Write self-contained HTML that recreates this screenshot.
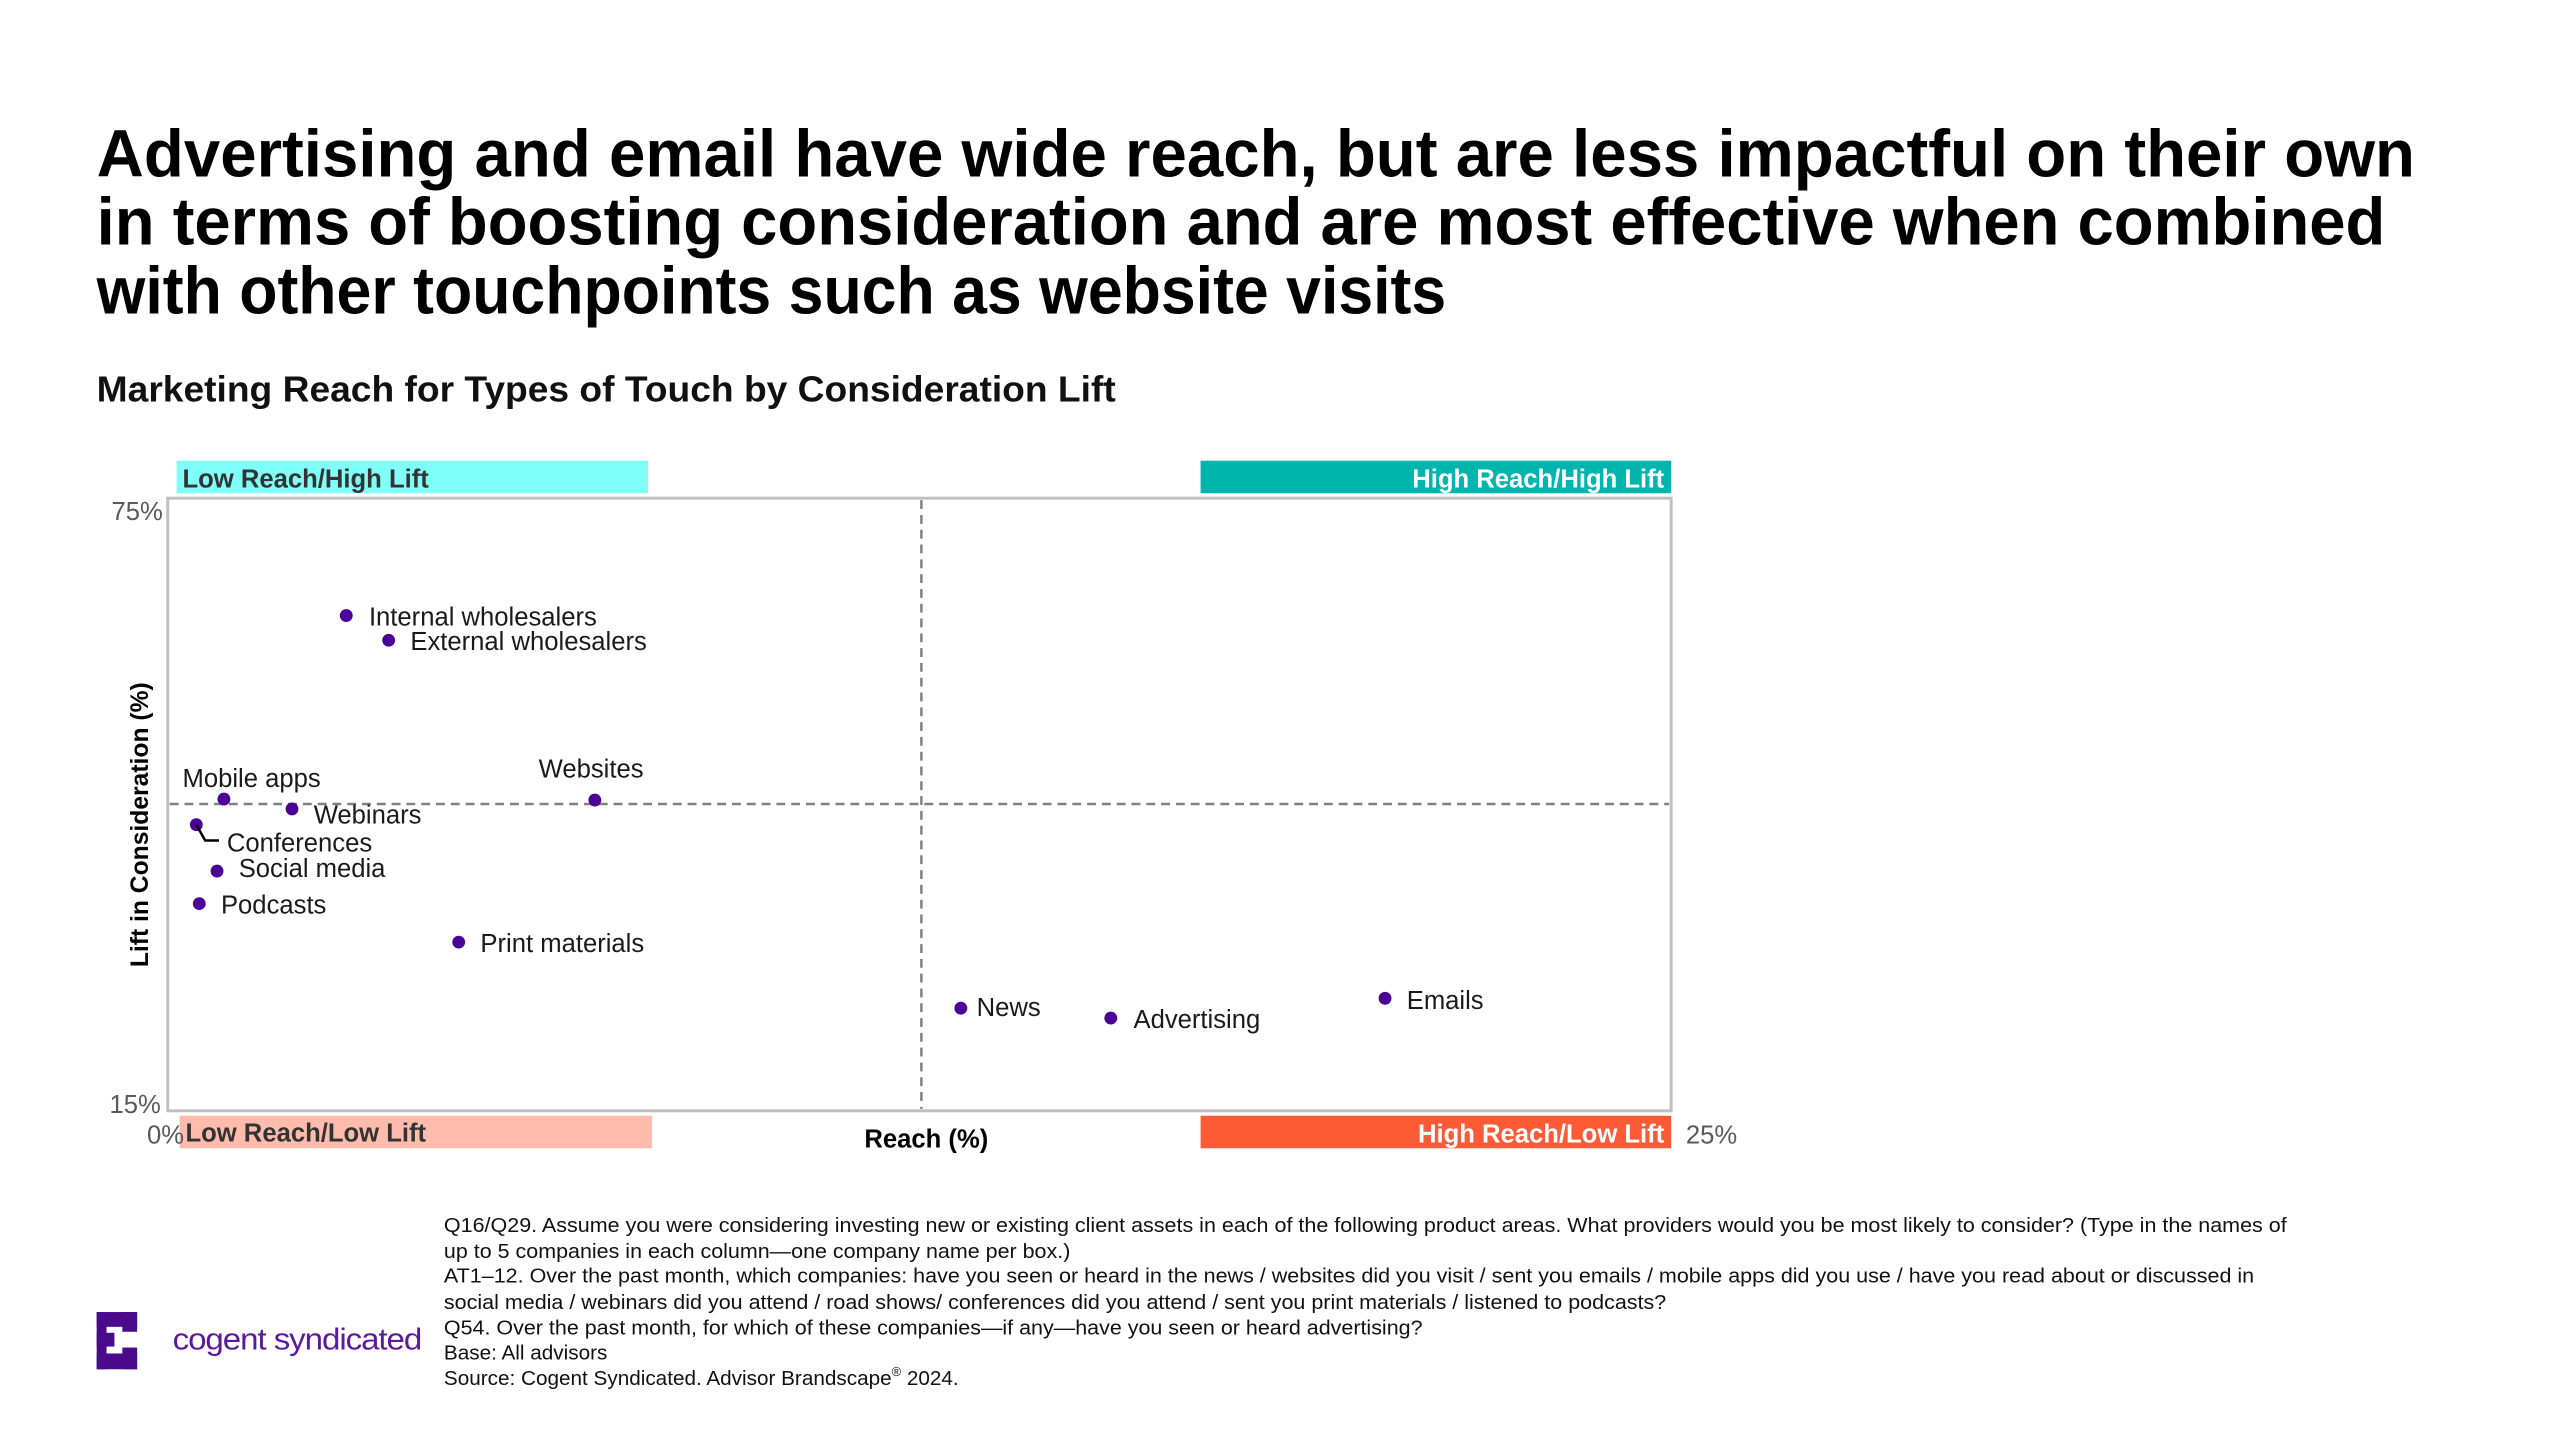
<!DOCTYPE html>
<html><head><meta charset="utf-8"><style>
html,body{margin:0;padding:0;background:#fff;}
svg{display:block;}
text{font-family:"Liberation Sans",sans-serif;}
</style></head><body>
<svg width="2560" height="1440" viewBox="0 0 2560 1440" xmlns="http://www.w3.org/2000/svg">
<g transform="scale(0.9865)">
<g font-weight="bold" font-size="68" fill="#000">
<text x="98" y="179" textLength="2350" lengthAdjust="spacingAndGlyphs">Advertising and email have wide reach, but are less impactful on their own</text>
<text x="98" y="248" textLength="2320" lengthAdjust="spacingAndGlyphs">in terms of boosting consideration and are most effective when combined</text>
<text x="98" y="318" textLength="1368" lengthAdjust="spacingAndGlyphs">with other touchpoints such as website visits</text>
</g>
<text x="98" y="407" font-weight="bold" font-size="37" fill="#111" textLength="1033" lengthAdjust="spacingAndGlyphs">Marketing Reach for Types of Touch by Consideration Lift</text>

<rect x="179" y="467" width="478" height="33" fill="#80FFF8"/>
<text x="185" y="494" font-weight="bold" font-size="26" fill="#333">Low Reach/High Lift</text>
<rect x="1217" y="467" width="477" height="33" fill="#00B5AD"/>
<text x="1687" y="494" font-weight="bold" font-size="26" fill="#fff" text-anchor="end">High Reach/High Lift</text>
<rect x="182" y="1131" width="479" height="33" fill="#FFBBAB"/>
<text x="188" y="1157" font-weight="bold" font-size="26" fill="#333">Low Reach/Low Lift</text>
<rect x="1217" y="1131" width="477" height="33" fill="#FF5A36"/>
<text x="1687" y="1158" font-weight="bold" font-size="26" fill="#fff" text-anchor="end">High Reach/Low Lift</text>

<rect x="170" y="505" width="1524" height="621" fill="none" stroke="#c0c0c0" stroke-width="3"/>
<line x1="934" y1="507" x2="934" y2="1124" stroke="#808080" stroke-width="2.5" stroke-dasharray="9,6"/>
<line x1="172" y1="815" x2="1692" y2="815" stroke="#808080" stroke-width="2.5" stroke-dasharray="9,6"/>

<g font-size="26" fill="#595959">
<text x="165" y="527" text-anchor="end">75%</text>
<text x="163" y="1128" text-anchor="end">15%</text>
<text x="149" y="1159">0%</text>
<text x="1709" y="1159">25%</text>
</g>
<text x="939" y="1163" font-weight="bold" font-size="26" fill="#000" text-anchor="middle">Reach (%)</text>
<text transform="translate(150,836) rotate(-90)" font-weight="bold" font-size="25" fill="#000" text-anchor="middle">Lift in Consideration (%)</text>

<g fill="#4B0096">
<circle cx="351" cy="624" r="6.5"/>
<circle cx="394" cy="649" r="6.5"/>
<circle cx="227" cy="810" r="6.5"/>
<circle cx="603" cy="811" r="6.5"/>
<circle cx="296" cy="820" r="6.5"/>
<circle cx="199" cy="836" r="6.5"/>
<circle cx="220" cy="883" r="6.5"/>
<circle cx="202" cy="916" r="6.5"/>
<circle cx="465" cy="955" r="6.5"/>
<circle cx="974" cy="1022" r="6.5"/>
<circle cx="1126" cy="1032" r="6.5"/>
<circle cx="1404" cy="1012" r="6.5"/>
</g>
<polyline points="199,836 208,852 222,852" fill="none" stroke="#000" stroke-width="2.5"/>
<g font-size="26" fill="#1a1a1a">
<text x="374" y="634">Internal wholesalers</text>
<text x="416" y="659">External wholesalers</text>
<text x="185" y="798">Mobile apps</text>
<text x="546" y="788">Websites</text>
<text x="318" y="835">Webinars</text>
<text x="230" y="863">Conferences</text>
<text x="242" y="889">Social media</text>
<text x="224" y="926">Podcasts</text>
<text x="487" y="965">Print materials</text>
<text x="990" y="1030">News</text>
<text x="1149" y="1042">Advertising</text>
<text x="1426" y="1023">Emails</text>
</g>

<g font-size="21" fill="#111">
<text x="450" y="1249" textLength="1868" lengthAdjust="spacingAndGlyphs">Q16/Q29. Assume you were considering investing new or existing client assets in each of the following product areas. What providers would you be most likely to consider? (Type in the names of</text>
<text x="450" y="1275" textLength="635" lengthAdjust="spacingAndGlyphs">up to 5 companies in each column—one company name per box.)</text>
<text x="450" y="1300" textLength="1835" lengthAdjust="spacingAndGlyphs">AT1–12. Over the past month, which companies: have you seen or heard in the news / websites did you visit / sent you emails / mobile apps did you use / have you read about or discussed in</text>
<text x="450" y="1327" textLength="1239" lengthAdjust="spacingAndGlyphs">social media / webinars did you attend / road shows/ conferences did you attend / sent you print materials / listened to podcasts?</text>
<text x="450" y="1353" textLength="992" lengthAdjust="spacingAndGlyphs">Q54. Over the past month, for which of these companies—if any—have you seen or heard advertising?</text>
<text x="450" y="1378">Base: All advisors</text>
<text x="450" y="1404">Source: Cogent Syndicated. Advisor Brandscape<tspan font-size="13" dy="-9">®</tspan><tspan dy="9"> 2024.</tspan></text>
</g>

<g fill="#4B0A8C">
<rect x="98" y="1330" width="41" height="15"/>
<rect x="124" y="1330" width="15" height="20"/>
<rect x="98" y="1351" width="18" height="14"/>
<rect x="98" y="1372" width="41" height="16"/>
<rect x="124" y="1366" width="15" height="22"/>
<rect x="98" y="1330" width="10" height="58"/>
</g>
<text x="175" y="1368" font-size="31" fill="#5B1A9E" textLength="252" lengthAdjust="spacingAndGlyphs" letter-spacing="-1">cogent syndicated</text>
</g>
</svg>
</body></html>
